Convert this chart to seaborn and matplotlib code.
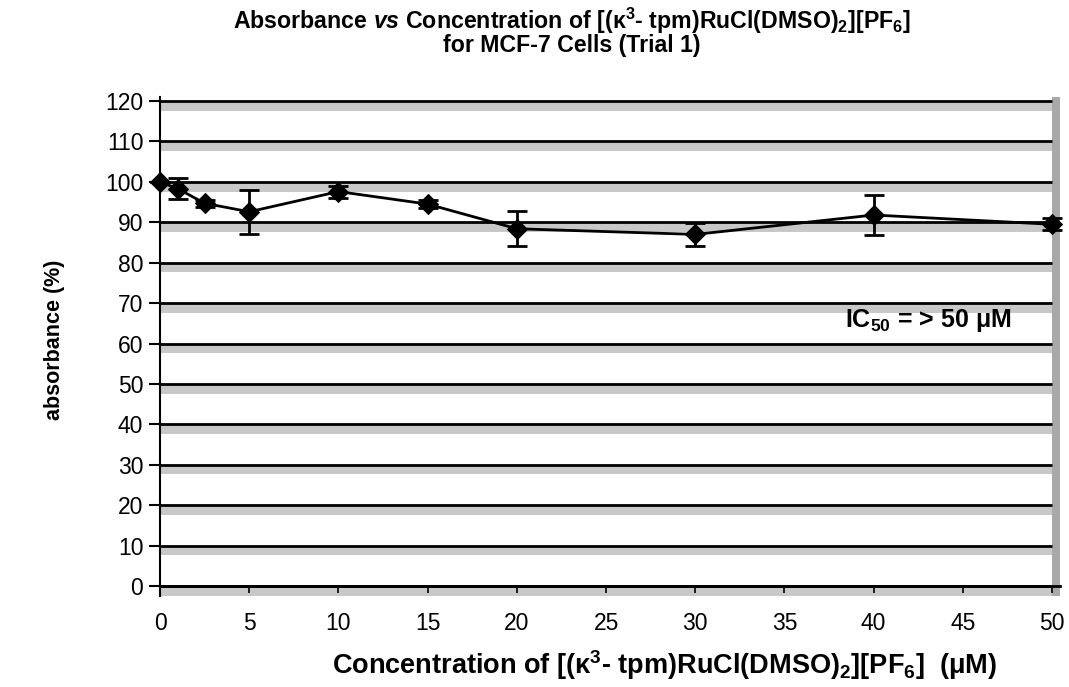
import matplotlib
matplotlib.use("Agg")
import matplotlib.pyplot as plt
import seaborn as sns
import numpy as np
import pandas as pd

# ---- data ----
concentration = [0, 1, 2.5, 5, 10, 15, 20, 30, 40, 50]
absorbance = [100, 98.3, 94.7, 92.6, 97.6, 94.5, 88.4, 87.0, 91.8, 89.5]
error = [0, 2.6, 0.8, 5.4, 1.5, 1.0, 4.3, 2.8, 4.9, 1.5]
xticks = [0, 5, 10, 15, 20, 25, 30, 35, 40, 45, 50]
yticks = [0, 10, 20, 30, 40, 50, 60, 70, 80, 90, 100, 110, 120]

sns.set_theme(style="white")
plt.rcParams['font.family'] = ['Liberation Sans', 'DejaVu Sans']
plt.rcParams['text.color'] = 'black'
plt.rcParams['xtick.color'] = 'black'
plt.rcParams['ytick.color'] = 'black'
plt.rcParams['mathtext.fontset'] = 'custom'
plt.rcParams['mathtext.rm'] = 'Liberation Sans:bold'
plt.rcParams['mathtext.bf'] = 'Liberation Sans:bold'
plt.rcParams['mathtext.it'] = 'Liberation Sans:bold:italic'
plt.rcParams['mathtext.default'] = 'bf'

fig = plt.figure(figsize=(10.69, 6.87), dpi=100)
ax = fig.add_axes([0.1497, 0.1329, 0.842, 0.7259])

df = pd.DataFrame({"conc": concentration, "abs": absorbance, "err": error})

# gray shading under each gridline
for yv in yticks:
    ax.axhspan(yv - 2.4, yv, xmin=0, xmax=50 / 50.45, color='#c8c8c8', lw=0, zorder=0)
# right vertical band
ax.axvspan(50, 50.45, ymin=0, ymax=1, color='#a8a8a8', lw=0, zorder=0)
# gridlines
for yv in yticks:
    ax.plot([0, 50], [yv, yv], color='black', lw=2, zorder=1, solid_capstyle='butt')

ax.errorbar(df["conc"], df["abs"], yerr=df["err"], fmt='none', ecolor='black',
            elinewidth=2, capsize=7, capthick=2, zorder=3, clip_on=False)
sns.lineplot(data=df, x="conc", y="abs", ax=ax, color='black', lw=2,
             marker='D', markersize=10, markeredgecolor='black', zorder=4, clip_on=False)

ax.set_xlim(0, 50.45)
ax.set_ylim(-2.4, 121)

for s in ['top', 'right']:
    ax.spines[s].set_visible(False)
ax.spines['left'].set_color('black')
ax.spines['left'].set_linewidth(1.5)
ax.spines['bottom'].set_position(('data', 0))
ax.spines['bottom'].set_color('black')
ax.spines['bottom'].set_linewidth(2)

ax.set_xticks(xticks)
ax.set_yticks(yticks)
ax.set_xticklabels([str(v) for v in xticks])
ax.set_yticklabels([str(v) for v in yticks])
ax.tick_params(axis='y', direction='out', length=8, width=1.5, color='black', pad=4,
               left=True, labelsize=16.5, labelcolor='black')
ax.tick_params(axis='x', direction='out', length=5, width=1.2, color='black', pad=14,
               bottom=True, labelsize=16.5, labelcolor='black')
ax.set_xlabel("")
ax.set_ylabel("")

ax.text(38.4, 65.6, "IC$_{50}$ = > 50 μM", fontsize=18, fontweight='bold',
        ha='left', va='center', zorder=5)

fig.text(0.535, 0.970, r"Absorbance $\mathit{vs}$ Concentration of [(κ$^{3}$- tpm)RuCl(DMSO)$_{2}$][PF$_{6}$]",
         ha='center', va='center', fontsize=16.7, fontweight='bold')
fig.text(0.535, 0.934, "for MCF-7 Cells (Trial 1)", ha='center', va='center',
         fontsize=16.7, fontweight='bold')
fig.text(0.622, 0.032, "Concentration of [(κ$^{3}$- tpm)RuCl(DMSO)$_{2}$][PF$_{6}$]  (μM)",
         ha='center', va='center', fontsize=19.5, fontweight='bold')
fig.text(0.051, 0.505, "absorbance (%)", ha='center', va='center', rotation=90,
         fontsize=15.5, fontweight='bold')

fig.savefig("out.png", dpi=100)
